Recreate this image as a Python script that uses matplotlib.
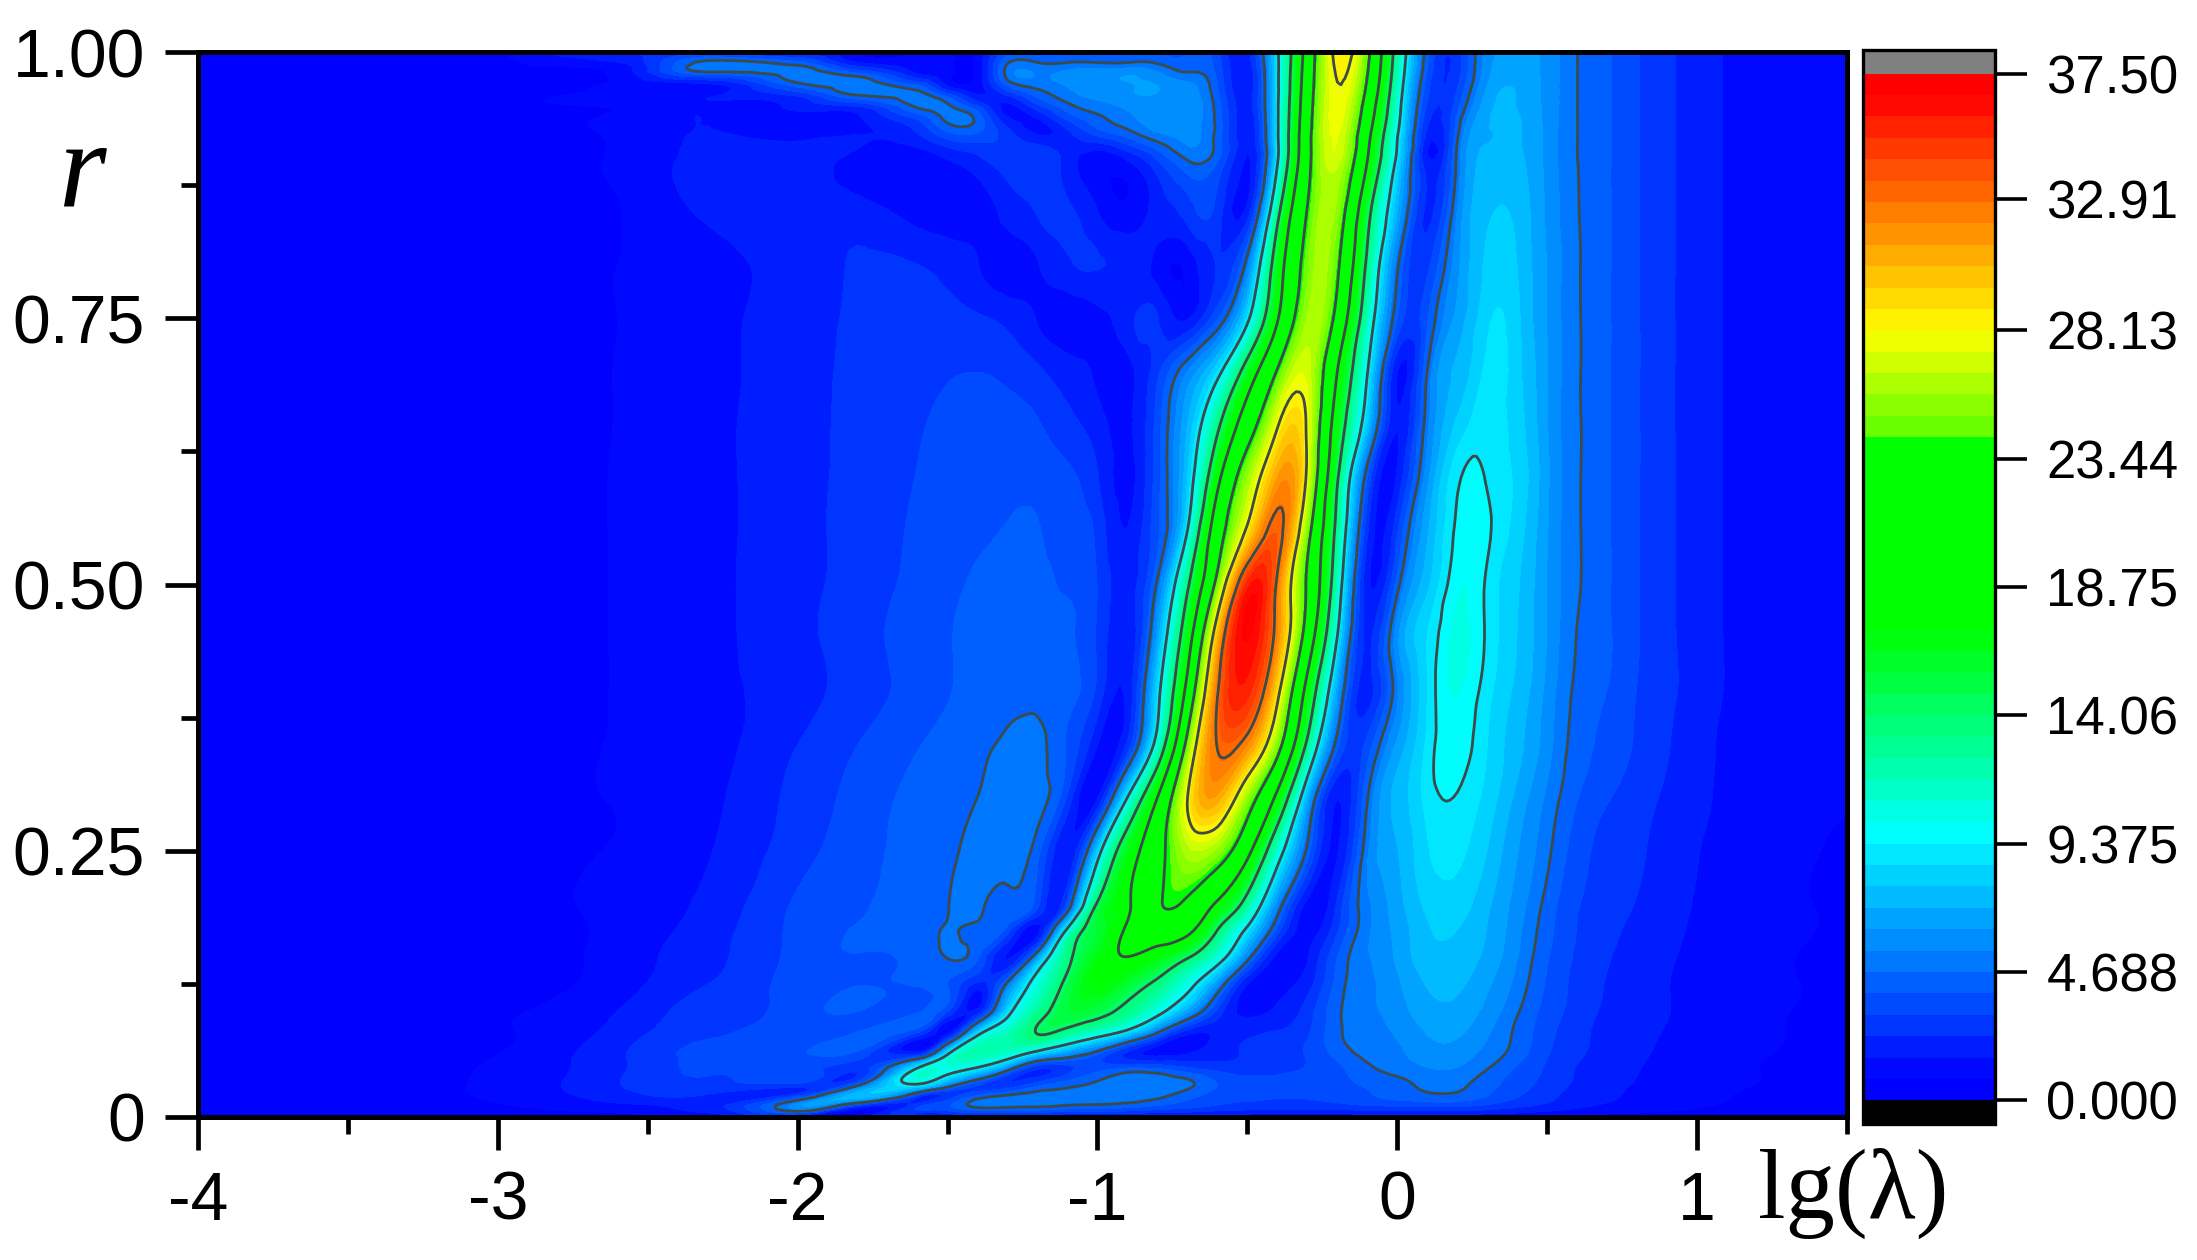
import matplotlib
matplotlib.use("Agg")
import matplotlib.pyplot as plt
import matplotlib.tri as mtri
import numpy as np
from matplotlib.colors import LinearSegmentedColormap, ListedColormap, BoundaryNorm
from matplotlib.ticker import MultipleLocator

W, H = 2197, 1260

# values
lg_lambda = [-4, -3.5, -3, -2.6, -2.3, -2, -1.8, -1.6,
             -1.5, -1.4, -1.3, -1.2, -1.1, -1, -.9, -.8, -.7, -.6,
             -.5, -.4, -.3, -.2, -.1, 0, .1,
             .2, .3, .4, .5, .6,
             .7, .8, .9, 1.1, 1.5]

r_values = [1, .99, .98, .97, .96, .95, .94, .925, .9, .85, .8, .75, .7, .65, .6, .55, .5, .45, .4,
            .35, .3, .25, .2, .175, .15, .125, .1, .08, .06, .045, .03, .02, .01, 0]

z_table = [
    [.3, .4, .6, 2.5, 2.5, 1.6, 1.0, 1.0, 1.0, 1.2, 3.5, 3.7, 3.8, 3.9, 4.0, 4.0, 3.9, 3.4, 2.0, 9.0, 20.5, 28.7, 24.4, 12.5, 4.2, 2.8, 5.8, 6.5, 6.0, 4.7, 4.0, 3.2, 2.5, 1.5, .9],
    [.3, .4, .6, 1.5, 5.0, 4.2, 1.6, 1.1, 1.0, 1.0, 4.6, 4.7, 4.7, 4.7, 4.7, 4.6, 4.2, 3.5, 2.0, 8.9, 20.7, 28.5, 24.0, 12.2, 4.0, 2.7, 5.9, 6.6, 6.0, 4.7, 4.0, 3.2, 2.5, 1.5, .9],
    [.3, .4, .6, 1.0, 4.3, 5.2, 4.0, 1.5, 1.0, 1.0, 5.0, 5.4, 5.7, 5.9, 6.1, 5.6, 4.8, 3.7, 1.8, 8.9, 20.9, 28.3, 23.6, 11.9, 3.8, 2.8, 6.0, 6.7, 6.0, 4.7, 4.0, 3.2, 2.5, 1.5, .9],
    [.3, .4, .6, .9, 1.5, 4.5, 5.3, 3.6, 1.3, 1.1, 4.2, 5.1, 5.6, 6.0, 6.2, 6.2, 5.6, 3.9, 1.8, 8.9, 21.1, 28.1, 23.1, 11.5, 3.5, 3.0, 6.2, 6.9, 6.0, 4.7, 4.0, 3.2, 2.5, 1.5, .9],
    [.3, .4, .6, .85, 1.4, 2.6, 4.8, 5.0, 3.4, 1.6, 2.5, 4.2, 5.2, 5.7, 6.1, 6.2, 5.8, 4.1, 1.9, 8.9, 21.3, 28.0, 22.5, 11.1, 3.3, 3.3, 6.5, 7.0, 6.0, 4.7, 4.0, 3.2, 2.5, 1.5, .9],
    [.3, .4, .6, .85, 1.5, 1.8, 2.6, 5.0, 4.8, 3.0, 1.4, 3.0, 4.5, 5.2, 5.7, 6.0, 5.9, 4.3, 2.0, 9.0, 21.5, 27.9, 21.8, 10.7, 3.0, 3.6, 6.7, 7.0, 6.0, 4.7, 4.0, 3.2, 2.5, 1.5, .9],
    [.3, .4, .55, .85, 1.55, 1.4, 1.5, 3.6, 5.0, 4.3, 1.5, 1.8, 3.6, 4.6, 5.3, 5.9, 5.8, 4.4, 1.9, 9.0, 21.7, 27.8, 21.2, 10.4, 2.7, 4.0, 6.9, 7.1, 6.0, 4.7, 4.0, 3.2, 2.5, 1.5, .9],
    [.3, .4, .55, .85, 1.6, 1.45, 1.5, 2.4, 3.9, 4.0, 2.6, 1.4, 2.2, 3.6, 4.5, 5.5, 5.7, 4.4, 1.8, 9.0, 22.0, 27.5, 20.2, 9.7, 2.2, 4.4, 7.0, 7.1, 6.0, 4.7, 4.0, 3.2, 2.5, 1.5, .9],
    [.25, .35, .5, .85, 1.85, 1.7, 1.4, 1.1, 1.6, 2.2, 2.9, 3.0, 2.0, 1.1, 1.7, 3.2, 4.8, 4.1, 1.5, 9.0, 22.2, 27.0, 18.9, 8.9, 1.7, 4.9, 7.2, 7.2, 6.0, 4.7, 4.0, 3.2, 2.5, 1.5, .9],
    [.25, .35, .5, .75, 1.7, 1.95, 1.9, 1.2, 1.0, 1.2, 1.8, 2.4, 2.5, 1.6, 1.0, 1.9, 2.7, 2.8, 1.9, 12.9, 23.6, 25.4, 15.3, 7.0, 2.2, 5.5, 7.7, 7.6, 6.1, 4.75, 4.0, 3.2, 2.5, 1.5, .9],
    [.25, .35, .5, .78, 1.3, 1.95, 2.42, 2.35, 2.1, 1.6, 1.1, 1.5, 2.2, 2.4, 2.0, 1.3, 1.0, 2.4, 5.3, 16.3, 24.8, 24.0, 13.4, 4.9, 2.9, 6.0, 8.0, 7.8, 6.2, 4.8, 4.0, 3.2, 2.5, 1.5, .9],
    [.25, .35, .5, .78, 1.3, 2.0, 2.45, 2.6, 2.6, 2.45, 2.1, 1.5, 1.1, 1.4, 2.0, 2.4, 1.5, 3.8, 8.8, 18.4, 25.9, 22.2, 11.6, 3.9, 3.8, 6.5, 8.4, 8.0, 6.2, 4.8, 4.0, 3.2, 2.5, 1.5, .9],
    [.25, .35, .5, .8, 1.3, 2.05, 2.5, 2.85, 3.05, 3.12, 2.95, 2.5, 1.9, 1.4, 1.3, 2.9, 5.5, 8.6, 15.9, 23.7, 27.0, 18.75, 9.5, 1.6, 4.7, 7.2, 8.8, 8.1, 6.3, 4.8, 4.0, 3.2, 2.5, 1.5, .9],
    [.25, .35, .5, .8, 1.33, 2.07, 2.55, 3.05, 3.3, 3.45, 3.4, 3.2, 2.6, 1.9, 1.4, 3.5, 7.0, 13.3, 21.3, 27.9, 27.8, 16.6, 7.7, 1.6, 5.2, 8.0, 9.0, 8.2, 6.3, 4.8, 4.0, 3.2, 2.5, 1.5, .9],
    [.25, .35, .5, .82, 1.33, 2.07, 2.6, 3.15, 3.4, 3.6, 3.7, 3.7, 3.3, 2.4, 1.3, 3.6, 7.8, 17.6, 25.7, 31.3, 27.6, 14.4, 3.9, 1.7, 6.0, 9.2, 9.3, 8.4, 6.4, 4.8, 4.0, 3.2, 2.5, 1.5, .9],
    [.25, .35, .5, .82, 1.33, 2.07, 2.65, 3.25, 3.55, 3.8, 3.95, 3.95, 3.6, 2.9, 1.6, 3.7, 9.4, 21.3, 28.7, 33.5, 24.9, 12.9, 2.5, 3.0, 6.9, 9.6, 9.55, 8.2, 6.3, 4.8, 4.0, 3.2, 2.5, 1.5, .9],
    [.25, .35, .5, .82, 1.36, 2.07, 2.7, 3.35, 3.7, 4.0, 4.15, 4.15, 3.85, 3.1, 2.0, 4.9, 13.5, 24.7, 35.5, 32.5, 23.0, 11.4, 1.8, 4.3, 7.6, 10.0, 9.2, 7.9, 6.2, 4.8, 4.0, 3.2, 2.5, 1.5, .9],
    [.25, .35, .5, .82, 1.35, 2.1, 2.8, 3.5, 3.85, 4.1, 4.3, 4.3, 4.0, 3.0, 1.8, 6.6, 16.8, 30.3, 36.8, 31.9, 21.5, 9.3, 2.2, 6.0, 8.6, 10.4, 9.2, 7.8, 6.2, 4.65, 4.0, 3.2, 2.5, 1.5, .9],
    [.25, .35, .5, .82, 1.34, 2.0, 2.75, 3.45, 3.85, 4.15, 4.4, 4.4, 4.1, 2.9, 1.8, 8.5, 20.0, 32.7, 35.5, 29.0, 17.4, 6.5, 2.0, 5.3, 8.6, 10.2, 8.9, 7.6, 6.0, 4.5, 3.9, 3.1, 2.5, 1.5, .9],
    [.25, .35, .5, .82, 1.25, 2.34, 3.12, 3.85, 4.2, 4.5, 4.9, 5.0, 3.8, 1.6, 2.5, 10.8, 24.5, 33.0, 32.0, 25.0, 13.4, 4.2, 3.4, 6.4, 8.8, 9.9, 8.6, 7.3, 5.8, 4.3, 3.7, 3.0, 2.4, 1.4, .8],
    [.25, .35, .5, .82, 1.35, 2.6, 3.4, 4.15, 4.4, 4.69, 5.1, 5.0, 3.0, 1.5, 9.4, 18.75, 28.1, 31.0, 25.6, 17.8, 7.1, 1.6, 4.6, 7.3, 8.9, 9.3, 8.3, 6.8, 5.3, 3.95, 3.2, 2.7, 2.2, 1.4, .8],
    [.2, .3, .45, .85, 1.5, 2.8, 3.6, 4.25, 4.55, 5.0, 5.2, 4.2, 1.6, 8.0, 16.4, 22.1, 26.2, 25.5, 19.9, 11.0, 4.4, 1.5, 5.3, 7.0, 8.5, 8.8, 7.8, 6.3, 4.9, 3.5, 2.9, 2.5, 2.0, 1.3, .7],
    [.2, .3, .45, 1.05, 1.75, 3.25, 3.8, 4.3, 4.65, 4.95, 4.35, 3.4, 3.5, 14.4, 18.3, 23.0, 22.8, 18.2, 12.7, 5.7, 1.3, 2.5, 5.3, 6.7, 8.0, 8.2, 7.2, 5.9, 4.4, 3.2, 2.7, 2.3, 1.9, 1.2, .7],
    [.2, .3, .4, 1.0, 1.95, 3.35, 3.95, 4.3, 4.75, 4.55, 3.5, 1.3, 10.1, 15.7, 19.3, 21.0, 19.7, 14.0, 8.8, 3.5, 1.2, 3.0, 5.3, 6.5, 7.7, 7.8, 7.0, 5.7, 4.2, 3.1, 2.5, 2.2, 1.8, 1.2, .7],
    [.2, .3, .4, 1.1, 2.1, 3.4, 3.85, 4.2, 4.72, 4.0, 1.5, 6.2, 13.4, 16.8, 18.7, 17.0, 14.3, 10.7, 5.3, 1.3, 1.5, 3.9, 5.4, 6.4, 7.5, 7.5, 6.8, 5.5, 4.0, 3.0, 2.4, 2.1, 1.7, 1.1, .6],
    [.2, .3, .38, 1.2, 2.34, 3.45, 3.85, 4.0, 3.9, 2.2, 5.0, 10.7, 14.8, 17.3, 15.7, 13.5, 10.4, 6.0, 1.6, 1.2, 2.0, 4.2, 5.3, 6.1, 7.1, 7.2, 6.4, 5.2, 3.8, 2.9, 2.3, 2.0, 1.6, 1.1, .6],
    [.2, .3, .65, 1.56, 2.7, 3.5, 3.95, 3.75, 3.3, 1.8, 8.3, 12.7, 15.5, 15.1, 13.3, 10.4, 6.7, 3.0, 1.3, 1.7, 2.7, 4.5, 5.3, 5.9, 6.7, 6.8, 6.0, 4.8, 3.6, 2.8, 2.2, 1.9, 1.6, 1.1, .6],
    [.2, .3, .7, 1.85, 2.95, 3.6, 3.9, 3.3, 1.3, 8.0, 11.6, 14.2, 13.2, 11.2, 8.7, 5.0, 2.0, 1.8, 2.1, 2.4, 3.0, 4.5, 5.1, 5.6, 6.3, 6.4, 5.6, 4.5, 3.4, 2.6, 2.1, 1.8, 1.5, 1.0, .6],
    [.2, .3, .76, 2.2, 3.3, 3.75, 3.7, 2.0, 8.8, 12.2, 11.2, 8.4, 6.2, 4.2, 2.2, 1.3, 1.5, 2.0, 2.5, 2.9, 3.2, 4.2, 4.9, 5.3, 5.9, 5.9, 5.2, 4.3, 3.2, 2.5, 2.0, 1.7, 1.4, 1.0, .5],
    [.2, .4, .9, 2.2, 3.2, 3.5, 2.6, 9.8, 10.5, 8.8, 5.3, 2.4, 2.9, 3.6, 4.1, 4.0, 3.4, 2.9, 2.7, 2.9, 3.2, 3.7, 4.5, 5.0, 5.4, 5.4, 4.7, 3.8, 3.0, 2.3, 1.9, 1.6, 1.3, .9, .5],
    [.2, .4, .95, 2.3, 3.0, 2.8, 4.4, 9.0, 5.7, 3.2, 2.6, 3.7, 4.4, 4.9, 5.3, 5.3, 4.9, 3.9, 3.5, 3.4, 3.4, 3.6, 4.0, 4.4, 4.9, 4.9, 4.2, 3.5, 2.8, 2.2, 1.8, 1.5, 1.3, .9, .5],
    [.2, .4, .9, 2.0, 2.2, 3.0, 7.5, 3.0, 2.6, 4.0, 4.8, 5.1, 5.2, 5.2, 5.1, 4.9, 4.2, 3.6, 3.3, 3.2, 3.2, 3.4, 3.8, 4.2, 4.5, 4.5, 3.9, 3.2, 2.6, 2.0, 1.7, 1.4, 1.2, .8, .4],
    [.15, .3, .7, 1.3, 2.0, 6.0, 2.5, 3.0, 3.8, 4.9, 4.9, 4.8, 4.5, 4.4, 4.2, 3.8, 3.4, 3.0, 2.8, 2.7, 2.7, 2.8, 3.0, 3.1, 3.2, 3.2, 2.9, 2.5, 2.1, 1.7, 1.4, 1.2, 1.0, .7, .4],
    [.1, .2, .3, .4, .8, 1.0, 1.0, 1.0, 1.1, 1.2, 1.2, 1.2, 1.2, 1.2, 1.1, 1.0, 1.0, 1.0, .9, .9, .9, .9, .9, .9, .9, .9, .9, .8, .7, .6, .5, .4, .4, .3, .2],
]

contour_levels = [4.688, 9.375, 14.06, 18.75, 23.44, 28.13, 32.91]
cbar_ticks = [0, 4.688, 9.375, 14.06, 18.75, 23.44, 28.13, 32.91, 37.5]
cbar_labels = ["0.000", "4.688", "9.375", "14.06", "18.75", "23.44", "28.13", "32.91", "37.50"]
x_ticks = [-4, -3, -2, -1, 0, 1]
y_ticks = [0, .25, .5, .75, 1]
y_labels = ["0", "0.25", "0.50", "0.75", "1.00"]

plt.rcParams["font.family"] = ["Liberation Sans", "DejaVu Sans"]
plt.rcParams["axes.unicode_minus"] = False

# 48 filled levels like the original colour scale
levels = np.linspace(0, 37.5, 49)
nodes = [(0, "#0000ff"), (.9 / 37.5, "#0000ff"), (9.8 / 37.5, "#00ffff"),
         (17.2 / 37.5, "#00ff00"), (24.2 / 37.5, "#00ff00"), (24.2 / 37.5, "#55ff00"),
         (28.1 / 37.5, "#ffff00"), (36.7 / 37.5, "#ff0000"), (1, "#ff0000")]
base = LinearSegmentedColormap.from_list("rainbow48", nodes, N=512)
cmap = ListedColormap(base((levels[:-1] + levels[1:]) / 2 / 37.5))
cmap.set_over("#808080")
cmap.set_under("black")
norm = BoundaryNorm(levels, 48)

fig = plt.figure(figsize=(W / 100, H / 100), dpi=100)


def px_box(left, top, right, bottom):
    return [left / W, 1 - bottom / H, (right - left) / W, (bottom - top) / H]


ax = fig.add_axes(px_box(198, 52, 1847, 1117))
z = np.array(z_table)[::-1]
r = np.array(r_values)[::-1]
gx, gy = np.meshgrid(lg_lambda, r)

# triangles of the grid, cut along the direction of the ridge
nr, nc = z.shape
tris = []
for i in range(nr - 1):
    for j in range(nc - 1):
        a = i * nc + j
        tris.append([a, a + 1, a + nc + 1])
        tris.append([a, a + nc + 1, a + nc])
tri = mtri.Triangulation(gx.ravel(), gy.ravel(), np.array(tris))

# matplotlib's own refiner, so the contours are not polygonal
interp = mtri.CubicTriInterpolator(tri, z.ravel(), kind="min_E")
fine_tri, fine_z = mtri.UniformTriRefiner(tri).refine_field(z.ravel(), triinterpolator=interp, subdiv=3)
fine_z = np.clip(fine_z, .02, 37.45)

cf = ax.tricontourf(fine_tri, fine_z, levels=levels, cmap=cmap, norm=norm, extend="both")
ax.tricontour(fine_tri, fine_z, levels=contour_levels, colors="#3c4a4a", linewidths=2.0)

ax.set_xlim(-4, 1.5)
ax.set_ylim(0, 1)
ax.set_xticks(x_ticks)
ax.set_yticks(y_ticks)
ax.set_yticklabels(y_labels, va="center_baseline")
ax.xaxis.set_minor_locator(MultipleLocator(.5))
ax.yaxis.set_minor_locator(MultipleLocator(.125))
ax.tick_params(which="major", length=24, width=3.4, labelsize=49, pad=14)
ax.tick_params(which="minor", length=12, width=3.4)
for s in ax.spines.values():
    s.set_linewidth(3.6)
    s.set_zorder(5)

cax = fig.add_axes(px_box(1863, 50, 1995, 1124))
cb = fig.colorbar(cf, cax=cax, extend="both", extendrect=True, extendfrac=.023, ticks=cbar_ticks)
cb.set_ticklabels(cbar_labels)
cb.minorticks_off()
cb.outline.set_linewidth(2.4)
cb.ax.tick_params(length=23, width=2.6, labelsize=38, pad=14)
for lab in cb.ax.get_yticklabels():
    lab.set_va("center_baseline")

fig.text(58 / W, 1 - 205 / H, "r", family="Liberation Serif", style="italic", fontsize=88, va="baseline")
fig.text(1758 / W, 1 - 1218 / H, "lg(λ)", family="Liberation Serif", fontsize=71, va="baseline")

fig.savefig("out.png", dpi=100)
